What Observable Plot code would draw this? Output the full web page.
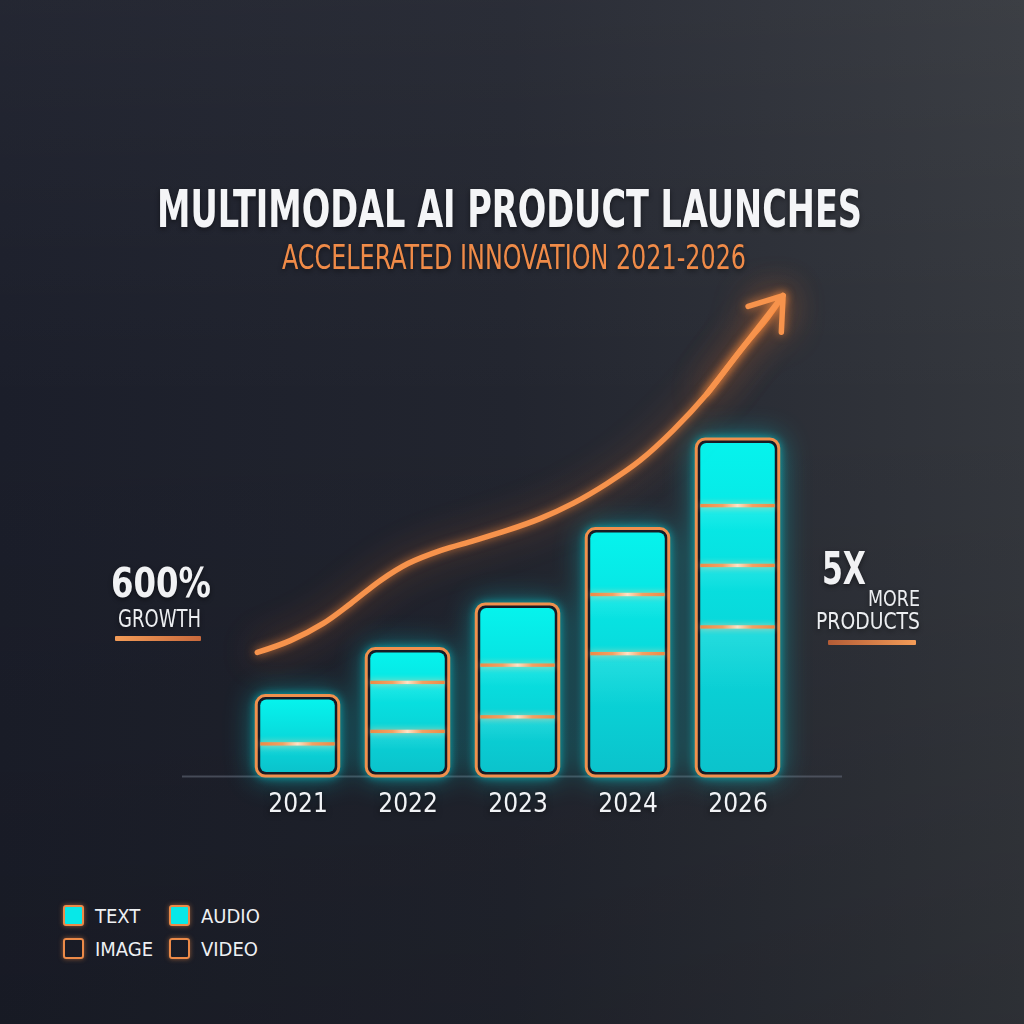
<!DOCTYPE html>
<html><head><meta charset="utf-8">
<script src="https://cdn.jsdelivr.net/npm/d3@7"></script>
<script src="https://cdn.jsdelivr.net/npm/@observablehq/plot@0.6"></script>
<style>
html,body{margin:0;padding:0;width:1024px;height:1024px;overflow:hidden;background:#1c1f29;}
#page{position:relative;width:1024px;height:1024px;overflow:hidden;
 background:
  linear-gradient(to bottom, rgba(255,255,255,0.04) 0%, rgba(0,0,0,0) 40%, rgba(0,0,0,0.14) 100%),
  linear-gradient(to right, #1b1e2a 0%, #22252f 50%, #34373d 100%);}
.t{position:absolute;white-space:nowrap;line-height:0.75;font-family:"Liberation Sans Narrow","DejaVu Sans Condensed","Roboto",sans-serif;text-shadow:0 2px 6px rgba(0,0,0,0.45);}
#chart{position:absolute;left:0;top:0;}
.u{position:absolute;height:5px;border-radius:1px;}
#legend{position:absolute;left:63px;top:905px;display:grid;grid-template-columns:106px 106px;row-gap:12px;}
.li{display:flex;align-items:center;height:21px;gap:11px;font-family:"Liberation Sans Narrow","DejaVu Sans Condensed","Roboto",sans-serif;font-size:20px;color:#eef0f3;}
.sw{width:21px;height:21px;box-sizing:border-box;border:2px solid #ec8a48;border-radius:3px;box-shadow:0 0 5px rgba(240,140,70,0.55);}
</style></head><body><div id="page"><div id="chart"></div></div>
<script>
// ---- data ----
const years = ["2021", "2022", "2023", "2024", "2026"];
const seriesNames = ["TEXT", "IMAGE", "AUDIO", "VIDEO"];
const textVals  = [9.5, 13.2, 17.5, 36.2, 44.1];
const imageVals = [14.3, 14.5, 15.3, 17.5, 18.2];
const audioVals = [0, 10.0, 18.1, 19.5, 17.7];
const videoVals = [0, 0, 0, 0, 19.7];
const legendOrder = ["TEXT", "AUDIO", "IMAGE", "VIDEO"];
const legendFilled = {TEXT: true, AUDIO: true, IMAGE: false, VIDEO: false};
// hand-read growth arrow (x in year-slot units, y in chart units)
const trendX = [-0.37, -0.07, 0.23, 0.48, 0.75, 1.0, 1.3, 1.6, 1.9, 2.2, 2.5, 2.81, 3.11, 3.41, 3.72, 4.02, 4.27, 4.41];
const trendY = [36.7, 40.2, 45.3, 51.2, 58.0, 63.0, 66.9, 69.8, 72.8, 76.3, 80.8, 86.7, 93.5, 102.4, 113.3, 126.0, 135.8, 142.3];
const titleText = "MULTIMODAL AI PRODUCT LAUNCHES";
const subtitleText = "ACCELERATED INNOVATION 2021-2026";
const leftBig = "600%", leftSmall = "GROWTH";
const rightBig = "5X", rightSmall1 = "MORE", rightSmall2 = "PRODUCTS";

// ---- tables ----
const valsBySeries = [textVals, imageVals, audioVals, videoVals];
const segments = [], totals = [];
years.forEach((yr, i) => {
  let cum = 0;
  const parts = [];
  valsBySeries.forEach((arr, s) => {
    if (arr[i] > 0) { parts.push({i, series: seriesNames[s], y1: cum, y2: cum + arr[i]}); cum += arr[i]; }
  });
  parts.forEach((p, k) => { p.last = k === parts.length - 1; p.first = k === 0; segments.push(p); });
  totals.push({i, year: yr, total: cum});
});
const seps = segments.filter(d => !d.last).map(d => ({i: d.i, v: d.y2}));
const trend = trendX.map((x, k) => ({x, y: trendY[k]}));
const n = trendX.length;
const head = [{x1: trendX[n - 4], y1: trendY[n - 4], x2: trendX[n - 1], y2: trendY[n - 1]}];

const HW = 0.375;
const orange = "#f0904d";
const ff = '"Liberation Sans Narrow","DejaVu Sans Condensed",Roboto,sans-serif';

const defs = () => {
  const d = d3.create("svg:defs");
  const g1 = d.append("linearGradient").attr("id", "cyanGrad").attr("x1", 0).attr("y1", 0).attr("x2", 0).attr("y2", 1);
  g1.append("stop").attr("offset", "0%").attr("stop-color", "#06f3ed");
  g1.append("stop").attr("offset", "100%").attr("stop-color", "#0bc3cc");
  const g2 = d.append("linearGradient").attr("id", "segGlow").attr("x1", 0).attr("y1", 0).attr("x2", 0).attr("y2", 1);
  g2.append("stop").attr("offset", "0%").attr("stop-color", "#ffffff").attr("stop-opacity", 0.12);
  g2.append("stop").attr("offset", "45%").attr("stop-color", "#ffffff").attr("stop-opacity", 0);
  const g3 = d.append("linearGradient").attr("id", "sepGrad").attr("x1", 0).attr("y1", 0).attr("x2", 1).attr("y2", 0);
  [["0%", "#ee8a45"], ["30%", "#f4a061"], ["50%", "#ffe2c4"], ["70%", "#f4a061"], ["100%", "#ee8a45"]]
    .forEach(([o, c]) => g3.append("stop").attr("offset", o).attr("stop-color", c));
  return d.node();
};

const plot = Plot.plot({
  width: 1024, height: 1024,
  marginLeft: 187.5, marginRight: 176.5, marginTop: 269, marginBottom: 248,
  x: {type: "linear", domain: [-1, 5], axis: null},
  y: {domain: [0, 150], axis: null},
  style: {background: "transparent", overflow: "visible"},
  marks: [
    defs,
    Plot.ruleY([0], {x1: -1.05, x2: 4.95, stroke: "#68707e", strokeWidth: 2, strokeOpacity: 0.55}),
    Plot.rect(totals, {x1: d => d.i - HW, x2: d => d.i + HW, y1: 0, y2: "total", rx: 9,
      fill: "#161b26", stroke: orange, strokeWidth: 3, ariaDescription: "outer"}),
    Plot.rect(totals, {x1: d => d.i - HW, x2: d => d.i + HW, y1: 0, y2: "total", rx: 6,
      insetLeft: 4, insetRight: 4, insetTop: 4, insetBottom: 4, fill: "url(#cyanGrad)"}),
    Plot.rect(segments.filter(d => !d.last), {x1: d => d.i - HW, x2: d => d.i + HW, y1: "y1", y2: "y2",
      insetLeft: 4, insetRight: 4, insetBottom: 4, fill: "url(#segGlow)"}),
    Plot.rect(seps, {x1: d => d.i - HW, x2: d => d.i + HW, y1: d => d.v - 0.5, y2: d => d.v + 0.5,
      insetLeft: 4, insetRight: 4, fill: "url(#sepGrad)", ariaDescription: "sep"}),
    Plot.line(trend, {x: "x", y: "y", curve: "catmull-rom", stroke: "#f7934c", strokeWidth: 5.5,
      strokeLinecap: "round", ariaDescription: "trend"}),
    Plot.arrow(head, {x1: "x1", y1: "y1", x2: "x2", y2: "y2", stroke: "#f7934c", strokeWidth: 5.5,
      headLength: 10, headAngle: 70, ariaDescription: "trend"}),
    Plot.text(years, {x: (d, i) => i, y: 0, dy: 27, text: d => d, fill: "#f1f3f6", fontSize: 26,
      fontFamily: ff, ariaDescription: "years"})
  ]
});
document.getElementById("chart").appendChild(plot);
plot.querySelectorAll('[aria-description="outer"]').forEach(g => g.style.filter =
  "drop-shadow(0 0 4px rgba(0,235,240,0.55)) drop-shadow(0 0 14px rgba(0,215,225,0.45))");
plot.querySelectorAll('[aria-description="sep"]').forEach(g => g.style.filter =
  "drop-shadow(0 0 3px rgba(255,210,160,0.8))");
plot.querySelectorAll('[aria-description="trend"]').forEach(g => g.style.filter =
  "drop-shadow(0 0 5px rgba(255,140,60,0.75)) drop-shadow(0 0 18px rgba(255,120,40,0.45))");
plot.querySelectorAll('[aria-description="years"]').forEach(g => g.style.filter =
  "drop-shadow(0 1px 3px rgba(0,0,0,0.6))");

// ---- html text ----
const page = document.getElementById("page");
function place(s) {
  const el = document.createElement("div");
  el.className = "t"; el.textContent = s.text;
  el.style.fontSize = s.fs + "px"; el.style.fontWeight = s.weight; el.style.color = s.color;
  el.style.left = s.left + "px"; el.style.top = (s.cy - 0.3575 * s.fs) + "px";
  page.appendChild(el);
  const w = el.getBoundingClientRect().width;
  el.style.transformOrigin = "0 50%";
  el.style.transform = `scaleX(${s.w / w})`;
}
const texts = [
  {text: titleText, left: 157, w: 705, cy: 209, fs: 52, weight: 700, color: "#f4f5f7"},
  {text: subtitleText, left: 282, w: 464, cy: 258, fs: 33, weight: 400, color: "#f08b48"},
  {text: leftBig, left: 111, w: 100, cy: 582.5, fs: 41, weight: 700, color: "#f1f2f4"},
  {text: leftSmall, left: 118, w: 83, cy: 618.5, fs: 24, weight: 400, color: "#eceef1"},
  {text: rightBig, left: 822, w: 44, cy: 567.5, fs: 44, weight: 700, color: "#f1f2f4"},
  {text: rightSmall1, left: 868, w: 52, cy: 598.5, fs: 22, weight: 400, color: "#eceef1"},
  {text: rightSmall2, left: 816, w: 104, cy: 621.5, fs: 23, weight: 400, color: "#eceef1"}
];
texts.forEach(place);
const u1 = document.createElement("div"); u1.className = "u";
Object.assign(u1.style, {left: "115px", top: "636px", width: "86px", background: "linear-gradient(to right,#f39c58,#c8693c)"});
const u2 = document.createElement("div"); u2.className = "u";
Object.assign(u2.style, {left: "828px", top: "640px", width: "88px", background: "linear-gradient(to right,#b45c36,#f39c58)"});
page.appendChild(u1); page.appendChild(u2);

// ---- legend ----
const lg = document.createElement("div"); lg.id = "legend";
legendOrder.forEach(name => {
  const it = document.createElement("div"); it.className = "li";
  const sw = document.createElement("div"); sw.className = "sw";
  sw.style.background = legendFilled[name] ? "#07e8e8" : "transparent";
  const lb = document.createElement("span"); lb.textContent = name;
  it.appendChild(sw); it.appendChild(lb); lg.appendChild(it);
});
page.appendChild(lg);
</script></body></html>
